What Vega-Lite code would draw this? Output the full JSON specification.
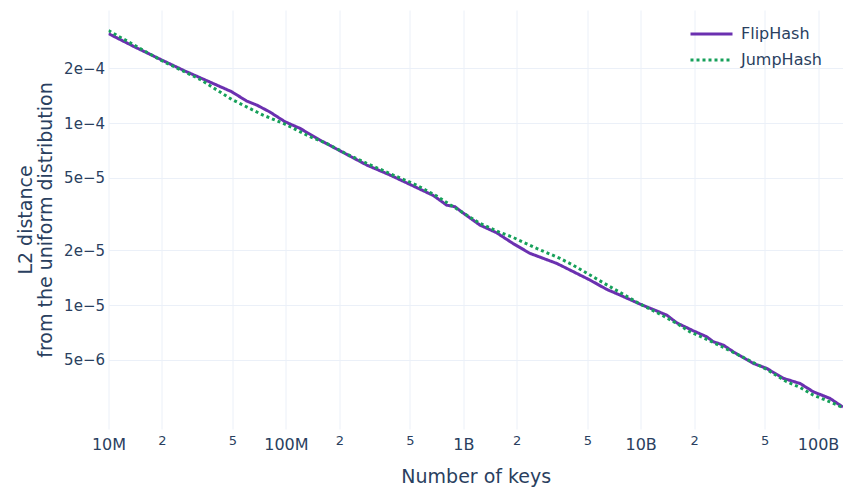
{
  "$schema": "https://vega.github.io/schema/vega-lite/v6.json",
  "autosize": "none",
  "width": 734.5,
  "height": 419,
  "padding": {"left": 108.5, "top": 10, "right": 0, "bottom": 62},
  "background": "white",
  "config": {
    "view": {"stroke": null},
    "font": "DejaVu Sans",
    "axis": {"domain": false, "ticks": false, "tickSize": 0, "gridColor": "#EBF0F8", "gridWidth": 1, "labelColor": "#2a3f5f", "titleColor": "#2a3f5f", "labelFont": "DejaVu Sans", "titleFont": "DejaVu Sans", "titleFontWeight": "normal"}
  },
  "data": {"values": [
    {"series": "FlipHash", "keys": 1e7, "distance": 3.10e-4},
    {"series": "FlipHash", "keys": 1.41e7, "distance": 2.616e-4},
    {"series": "FlipHash", "keys": 2.0e7, "distance": 2.219e-4},
    {"series": "FlipHash", "keys": 2.70e7, "distance": 1.931e-4},
    {"series": "FlipHash", "keys": 3.73e7, "distance": 1.680e-4},
    {"series": "FlipHash", "keys": 4.95e7, "distance": 1.486e-4},
    {"series": "FlipHash", "keys": 6.01e7, "distance": 1.321e-4},
    {"series": "FlipHash", "keys": 6.85e7, "distance": 1.256e-4},
    {"series": "FlipHash", "keys": 8.14e7, "distance": 1.149e-4},
    {"series": "FlipHash", "keys": 9.88e7, "distance": 1.017e-4},
    {"series": "FlipHash", "keys": 1.201e8, "distance": 9.35e-5},
    {"series": "FlipHash", "keys": 1.557e8, "distance": 8.06e-5},
    {"series": "FlipHash", "keys": 2.018e8, "distance": 7.04e-5},
    {"series": "FlipHash", "keys": 2.855e8, "distance": 5.88e-5},
    {"series": "FlipHash", "keys": 3.864e8, "distance": 5.18e-5},
    {"series": "FlipHash", "keys": 5.227e8, "distance": 4.51e-5},
    {"series": "FlipHash", "keys": 6.775e8, "distance": 4.00e-5},
    {"series": "FlipHash", "keys": 8.06e8, "distance": 3.54e-5},
    {"series": "FlipHash", "keys": 8.98e8, "distance": 3.47e-5},
    {"series": "FlipHash", "keys": 9.96e8, "distance": 3.21e-5},
    {"series": "FlipHash", "keys": 1.242e9, "distance": 2.75e-5},
    {"series": "FlipHash", "keys": 1.543e9, "distance": 2.495e-5},
    {"series": "FlipHash", "keys": 1.906e9, "distance": 2.18e-5},
    {"series": "FlipHash", "keys": 2.377e9, "distance": 1.923e-5},
    {"series": "FlipHash", "keys": 3.36e9, "distance": 1.695e-5},
    {"series": "FlipHash", "keys": 4.55e9, "distance": 1.462e-5},
    {"series": "FlipHash", "keys": 5.18e9, "distance": 1.372e-5},
    {"series": "FlipHash", "keys": 6.43e9, "distance": 1.220e-5},
    {"series": "FlipHash", "keys": 7.64e9, "distance": 1.135e-5},
    {"series": "FlipHash", "keys": 9.91e9, "distance": 1.013e-5},
    {"series": "FlipHash", "keys": 1.402e10, "distance": 8.81e-6},
    {"series": "FlipHash", "keys": 1.596e10, "distance": 7.99e-6},
    {"series": "FlipHash", "keys": 1.980e10, "distance": 7.22e-6},
    {"series": "FlipHash", "keys": 2.355e10, "distance": 6.70e-6},
    {"series": "FlipHash", "keys": 2.566e10, "distance": 6.29e-6},
    {"series": "FlipHash", "keys": 2.922e10, "distance": 6.03e-6},
    {"series": "FlipHash", "keys": 3.327e10, "distance": 5.54e-6},
    {"series": "FlipHash", "keys": 4.312e10, "distance": 4.78e-6},
    {"series": "FlipHash", "keys": 5.132e10, "distance": 4.49e-6},
    {"series": "FlipHash", "keys": 6.366e10, "distance": 3.96e-6},
    {"series": "FlipHash", "keys": 7.907e10, "distance": 3.71e-6},
    {"series": "FlipHash", "keys": 9.40e10, "distance": 3.34e-6},
    {"series": "FlipHash", "keys": 1.167e11, "distance": 3.07e-6},
    {"series": "FlipHash", "keys": 1.382e11, "distance": 2.75e-6},
    {"series": "JumpHash", "keys": 1e7, "distance": 3.223e-4},
    {"series": "JumpHash", "keys": 1.41e7, "distance": 2.666e-4},
    {"series": "JumpHash", "keys": 2.0e7, "distance": 2.199e-4},
    {"series": "JumpHash", "keys": 3.28e7, "distance": 1.739e-4},
    {"series": "JumpHash", "keys": 4.95e7, "distance": 1.349e-4},
    {"series": "JumpHash", "keys": 7.43e7, "distance": 1.106e-4},
    {"series": "JumpHash", "keys": 9.88e7, "distance": 9.87e-5},
    {"series": "JumpHash", "keys": 1.367e8, "distance": 8.41e-5},
    {"series": "JumpHash", "keys": 1.698e8, "distance": 7.73e-5},
    {"series": "JumpHash", "keys": 2.201e8, "distance": 6.76e-5},
    {"series": "JumpHash", "keys": 2.855e8, "distance": 6.01e-5},
    {"series": "JumpHash", "keys": 4.03e8, "distance": 5.18e-5},
    {"series": "JumpHash", "keys": 5.46e8, "distance": 4.56e-5},
    {"series": "JumpHash", "keys": 7.08e8, "distance": 3.97e-5},
    {"series": "JumpHash", "keys": 8.06e8, "distance": 3.66e-5},
    {"series": "JumpHash", "keys": 1.242e9, "distance": 2.81e-5},
    {"series": "JumpHash", "keys": 1.543e9, "distance": 2.55e-5},
    {"series": "JumpHash", "keys": 1.906e9, "distance": 2.355e-5},
    {"series": "JumpHash", "keys": 2.594e9, "distance": 2.048e-5},
    {"series": "JumpHash", "keys": 3.509e9, "distance": 1.805e-5},
    {"series": "JumpHash", "keys": 4.152e9, "distance": 1.659e-5},
    {"series": "JumpHash", "keys": 5.18e9, "distance": 1.462e-5},
    {"series": "JumpHash", "keys": 6.98e9, "distance": 1.235e-5},
    {"series": "JumpHash", "keys": 9.91e9, "distance": 1.013e-5},
    {"series": "JumpHash", "keys": 1.285e10, "distance": 8.92e-6},
    {"series": "JumpHash", "keys": 1.596e10, "distance": 7.93e-6},
    {"series": "JumpHash", "keys": 1.897e10, "distance": 7.13e-6},
    {"series": "JumpHash", "keys": 2.355e10, "distance": 6.48e-6},
    {"series": "JumpHash", "keys": 2.80e10, "distance": 5.98e-6},
    {"series": "JumpHash", "keys": 3.787e10, "distance": 5.16e-6},
    {"series": "JumpHash", "keys": 5.132e10, "distance": 4.43e-6},
    {"series": "JumpHash", "keys": 6.653e10, "distance": 3.79e-6},
    {"series": "JumpHash", "keys": 7.907e10, "distance": 3.53e-6},
    {"series": "JumpHash", "keys": 9.40e10, "distance": 3.20e-6},
    {"series": "JumpHash", "keys": 1.167e11, "distance": 2.94e-6},
    {"series": "JumpHash", "keys": 1.382e11, "distance": 2.73e-6}
  ]},
  "mark": {"type": "line", "strokeWidth": 3, "clip": true},
  "encoding": {
    "x": {
      "field": "keys", "type": "quantitative",
      "scale": {"type": "log", "domain": [1e7, 1.382e11], "nice": false, "zero": false},
      "axis": {
        "values": [1e7, 2e7, 5e7, 1e8, 2e8, 5e8, 1e9, 2e9, 5e9, 1e10, 2e10, 5e10, 1e11],
        "labelExpr": "abs(log(datum.value)/LN10 - round(log(datum.value)/LN10)) < 0.01 ? (datum.value < 5e7 ? '10M' : datum.value < 5e8 ? '100M' : datum.value < 5e9 ? '1B' : datum.value < 5e10 ? '10B' : '100B') : (datum.value / pow(10, floor(log(datum.value)/LN10 + 1e-9)) < 3 ? '2' : '5')",
        "labelBaseline": "alphabetic",
        "labelFontSize": {"condition": {"test": "abs(log(datum.value)/LN10 - round(log(datum.value)/LN10)) < 0.01", "value": 16}, "value": 13},
        "labelPadding": {"condition": {"test": "abs(log(datum.value)/LN10 - round(log(datum.value)/LN10)) < 0.01", "value": 20}, "value": 15},
        "labelFlush": false,
        "labelOverlap": false,
        "title": "Number of keys",
        "titleFontSize": 19,
        "titleBaseline": "alphabetic",
        "titleY": 53
      }
    },
    "y": {
      "field": "distance", "type": "quantitative",
      "scale": {"type": "log", "domain": [2.085e-6, 4.18e-4], "nice": false, "zero": false},
      "axis": {
        "values": [5e-6, 1e-5, 2e-5, 5e-5, 1e-4, 2e-4],
        "labelExpr": "replace(format(datum.value, '.0e'), '-', '\u2212')",
        "labelFontSize": 15,
        "labelPadding": 4,
        "labelOverlap": false,
        "title": ["L2 distance", "from the uniform distribution"],
        "titleFontSize": 19,
        "titleLineHeight": 20,
        "titleAngle": -90,
        "titleAlign": "center",
        "titleBaseline": "alphabetic",
        "titleX": -77,
        "titleY": 209.5
      }
    },
    "color": {
      "field": "series", "type": "nominal",
      "scale": {"domain": ["FlipHash", "JumpHash"], "range": ["#6b30b0", "#16a05a"]},
      "legend": {"title": null, "orient": "none", "legendX": 580.5, "legendY": 11, "symbolType": "stroke", "symbolSize": 1764, "symbolStrokeWidth": 3, "labelFontSize": 16, "labelColor": "#2a3f5f", "labelOffset": 7, "padding": 0, "rowPadding": 0, "clipHeight": 26}
    },
    "strokeDash": {
      "field": "series", "type": "nominal",
      "scale": {"domain": ["FlipHash", "JumpHash"], "range": [[1, 0], [3, 3]]},
      "legend": {"title": null, "orient": "none", "legendX": 580.5, "legendY": 11, "symbolType": "stroke", "symbolSize": 1764, "symbolStrokeWidth": 3, "labelFontSize": 16, "labelColor": "#2a3f5f", "labelOffset": 7, "padding": 0, "rowPadding": 0, "clipHeight": 26}
    }
  }
}
